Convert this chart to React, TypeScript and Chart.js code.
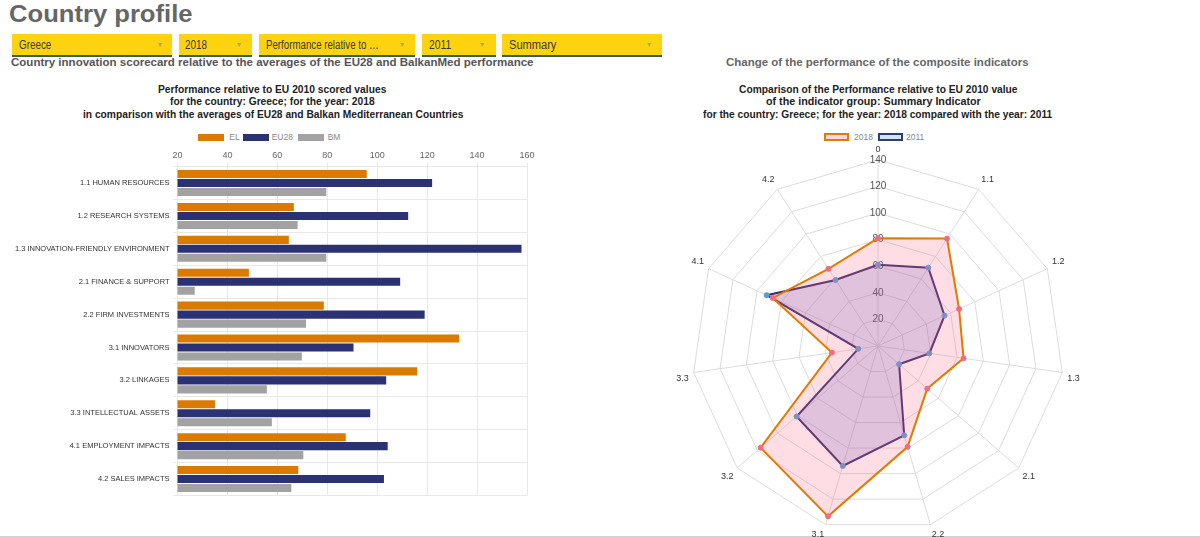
import React, { useEffect, useLayoutEffect, useRef, useState } from "react";
import { Chart, registerables } from "chart.js";

Chart.register(...registerables);

const FONT = "'Liberation Sans', Arial, Helvetica, sans-serif";
Chart.defaults.font.family = FONT;

// ---------- Bar chart data ----------
const categories = [
  "1.1 HUMAN RESOURCES",
  "1.2 RESEARCH SYSTEMS",
  "1.3 INNOVATION-FRIENDLY ENVIRONMENT",
  "2.1 FINANCE & SUPPORT",
  "2.2 FIRM INVESTMENTS",
  "3.1 INNOVATORS",
  "3.2 LINKAGES",
  "3.3 INTELLECTUAL ASSETS",
  "4.1 EMPLOYMENT IMPACTS",
  "4.2 SALES IMPACTS",
];
const barSeriesNames = ["EL", "EU28", "BM"];
const elValues = [95.8, 66.6, 64.6, 48.6, 78.6, 132.8, 116.0, 35.0, 87.4, 68.4];
const eu28Values = [122.0, 112.4, 157.8, 109.2, 119.0, 90.5, 103.6, 97.2, 104.2, 102.7];
const bmValues = [79.6, 68.1, 79.6, 26.9, 71.5, 69.8, 55.8, 57.8, 70.4, 65.6];
const barAxisMin = 20;
const barAxisMax = 160;
const barAxisStep = 20;

// ---------- Radar chart data ----------
const radarLabels = ["0", "1.1", "1.2", "1.3", "2.1", "2.2", "3.1", "3.2", "3.3", "4.1", "4.2"];
const radarSeriesNames = ["2018", "2011"];
const values2018 = [81, 96, 67, 65, 49, 79, 133.5, 116.8, 35, 87, 69];
const values2011 = [61, 70, 55, 39, 21, 70, 94, 81, 15, 92, 59];
const radarMin = 0;
const radarMax = 140;
const radarStep = 20;

// ---------- Header data ----------
const dropdownTexts = ["Greece", "2018", "Performance relative to …", "2011", "Summary"];

const BAR_COLORS = ["#da7b00", "#2a3273", "#a2a2a2"];
const RADAR_BORDER = ["#e07b00", "#3a2d6e"];
const RADAR_FILL = ["rgba(255,99,132,0.22)", "rgba(60,80,200,0.2)"];
const RADAR_POINT = ["#f26b82", "#5b9bd5"];
const RADAR_LEGEND_FILL = ["#ffd6dd", "#d3e3f6"];

type FitProps = {
  text: string;
  x1: number;
  x2: number;
  cy: number;
  size: number;
  weight?: string | number;
  color?: string;
};

function FitText({ text, x1, x2, cy, size, weight = "normal", color = "#333" }: FitProps) {
  const ref = useRef<HTMLSpanElement>(null);
  const [sx, setSx] = useState(1);
  useLayoutEffect(() => {
    const el = ref.current;
    if (!el) return;
    const w = el.offsetWidth;
    if (w > 0) setSx((x2 - x1) / w);
  }, [text, x1, x2, size]);
  return (
    <span
      ref={ref}
      style={{
        position: "absolute",
        left: x1,
        top: cy - size / 2,
        fontSize: size,
        lineHeight: `${size}px`,
        fontWeight: weight as any,
        color,
        fontFamily: FONT,
        whiteSpace: "nowrap",
        transform: `scaleX(${sx})`,
        transformOrigin: "0 0",
      }}
    >
      {text}
    </span>
  );
}

function BarChart() {
  const ref = useRef<HTMLCanvasElement>(null);
  useEffect(() => {
    const seriesValues = [elValues, eu28Values, bmValues];
    const chart = new Chart(ref.current as HTMLCanvasElement, {
      type: "bar",
      data: {
        labels: categories,
        datasets: barSeriesNames.map((name, i) => ({
          label: name,
          data: seriesValues[i],
          backgroundColor: BAR_COLORS[i],
          borderWidth: 0,
          categoryPercentage: 0.82,
          barPercentage: 0.9,
        })),
      },
      options: {
        indexAxis: "y",
        responsive: false,
        animation: false,
        maintainAspectRatio: false,
        layout: { padding: { left: 0, right: 17, top: 0, bottom: 0 } },
        plugins: {
          legend: { display: false },
          title: { display: false },
          tooltip: { enabled: false },
        },
        scales: {
          x: {
            position: "top",
            min: barAxisMin,
            max: barAxisMax,
            ticks: { stepSize: barAxisStep, color: "#666", font: { size: 9 }, padding: 2 },
            grid: { color: "#e8e8e8", tickLength: 4 },
            border: { display: false },
            afterFit: (s: any) => {
              s.height = 20.6;
            },
          },
          y: {
            ticks: { color: "#333", font: { size: 7.5 }, padding: 4 },
            grid: { color: "#e8e8e8", tickLength: 4, offset: true },
            border: { display: false },
            afterFit: (s: any) => {
              s.width = 177.5;
            },
          },
        },
      } as any,
    });
    return () => chart.destroy();
  }, []);
  return (
    <canvas
      ref={ref}
      width={544}
      height={358}
      style={{ position: "absolute", left: 0, top: 146, width: 544, height: 358 }}
    />
  );
}

function RadarChart() {
  const ref = useRef<HTMLCanvasElement>(null);
  useEffect(() => {
    const seriesValues = [values2018, values2011];
    const chart = new Chart(ref.current as HTMLCanvasElement, {
      type: "radar",
      data: {
        labels: radarLabels,
        datasets: radarSeriesNames.map((name, i) => ({
          label: name,
          data: seriesValues[i],
          borderColor: RADAR_BORDER[i],
          backgroundColor: RADAR_FILL[i],
          borderWidth: 2,
          fill: true,
          tension: 0,
          pointBackgroundColor: RADAR_POINT[i],
          pointBorderColor: RADAR_POINT[i],
          pointRadius: 2.5,
          pointBorderWidth: 1,
        })),
      },
      options: {
        responsive: false,
        animation: false,
        maintainAspectRatio: false,
        layout: { padding: 0 },
        plugins: {
          legend: { display: false },
          title: { display: false },
          tooltip: { enabled: false },
        },
        scales: {
          r: {
            min: radarMin,
            max: radarMax,
            ticks: {
              stepSize: radarStep,
              showLabelBackdrop: false,
              backdropPadding: 0,
              color: "#555",
              font: { size: 10 },
            },
            pointLabels: { color: "#333", font: { size: 9 }, padding: 0 },
            grid: { color: "#dcdcdc" },
            angleLines: { color: "#dcdcdc" },
          },
        },
      } as any,
    });
    return () => chart.destroy();
  }, []);
  return (
    <canvas
      ref={ref}
      width={460}
      height={404}
      style={{ position: "absolute", left: 648, top: 141, width: 460, height: 404 }}
    />
  );
}

const dropdownBoxes = [
  { x1: 11.7, x2: 172.3, tx1: 19, tx2: 51, ax: 161 },
  { x1: 179, x2: 252.3, tx1: 185, tx2: 207.3, ax: 240 },
  { x1: 258.5, x2: 415.4, tx1: 265.8, tx2: 378.2, ax: 403 },
  { x1: 422, x2: 495.7, tx1: 428.6, tx2: 450.9, ax: 483 },
  { x1: 502, x2: 661.5, tx1: 508.5, tx2: 555.6, ax: 650 },
];

export default function App() {
  const barLegendPos = [
    { bx: 198.3, tx: 229.3 },
    { bx: 243.3, tx: 271.7 },
    { bx: 298.3, tx: 327.7 },
  ];
  const radarLegendPos = [
    { bx: 824, tx: 854 },
    { bx: 877.7, tx: 906 },
  ];
  return (
    <div
      style={{
        position: "fixed",
        left: 0,
        top: 0,
        width: 1200,
        height: 537,
        overflow: "hidden",
        background: "#fff",
        fontFamily: FONT,
      }}
    >
      <div
        style={{
          position: "absolute",
          left: 0,
          top: 535.5,
          width: 1200,
          height: 1.5,
          background: "#d2d2d2",
        }}
      />

      <FitText text="Country profile" x1={8.5} x2={192} cy={14} size={24} weight="bold" color="#666" />

      {dropdownBoxes.map((b, i) => (
        <React.Fragment key={i}>
          <div
            style={{
              position: "absolute",
              left: b.x1,
              top: 34,
              width: b.x2 - b.x1,
              height: 21,
              background: "#fdd20f",
              borderBottom: "2px solid #3b5a5f",
            }}
          />
          <FitText text={dropdownTexts[i]} x1={b.tx1} x2={b.tx2} cy={45} size={12} color="#3a3a3a" />
          <span
            style={{
              position: "absolute",
              left: b.ax - 3,
              top: 41,
              fontSize: 8,
              lineHeight: "8px",
              color: "#b5a35a",
            }}
          >
            ▾
          </span>
        </React.Fragment>
      ))}

      <FitText
        text="Country innovation scorecard relative to the averages of the EU28 and BalkanMed performance"
        x1={11}
        x2={533}
        cy={62.5}
        size={11.5}
        weight="bold"
        color="#555"
      />
      <FitText
        text="Change of the performance of the composite indicators"
        x1={726}
        x2={1028.7}
        cy={63}
        size={11.5}
        weight="bold"
        color="#666"
      />

      {/* Bar chart titles */}
      <FitText text="Performance relative to EU 2010 scored values" x1={158.2} x2={386.1} cy={89} size={10.5} weight="bold" color="#222" />
      <FitText text="for the country: Greece; for the year: 2018" x1={170.4} x2={374.6} cy={101.5} size={10.5} weight="bold" color="#222" />
      <FitText
        text="in comparison with the averages of EU28 and Balkan Mediterranean Countries"
        x1={82.5}
        x2={462.5}
        cy={114}
        size={10.5}
        weight="bold"
        color="#222"
      />

      {/* Radar titles */}
      <FitText text="Comparison of the Performance relative to EU 2010 value" x1={738.7} x2={1017.3} cy={89} size={10.5} weight="bold" color="#222" />
      <FitText text="of the indicator group: Summary Indicator" x1={766} x2={980.7} cy={101.5} size={10.5} weight="bold" color="#222" />
      <FitText
        text="for the country: Greece; for the year: 2018 compared with the year: 2011"
        x1={702.7}
        x2={1052}
        cy={114}
        size={10.5}
        weight="bold"
        color="#222"
      />

      {/* Bar legend */}
      {barSeriesNames.map((name, i) => (
        <React.Fragment key={name}>
          <div
            style={{
              position: "absolute",
              left: barLegendPos[i].bx,
              top: 134,
              width: 26,
              height: 7,
              background: BAR_COLORS[i],
            }}
          />
          <span
            style={{
              position: "absolute",
              left: barLegendPos[i].tx,
              top: 133,
              fontSize: 8.5,
              lineHeight: "9px",
              color: "#888",
              whiteSpace: "nowrap",
            }}
          >
            {name}
          </span>
        </React.Fragment>
      ))}

      {/* Radar legend */}
      {radarSeriesNames.map((name, i) => (
        <React.Fragment key={name}>
          <div
            style={{
              position: "absolute",
              left: radarLegendPos[i].bx,
              top: 133,
              width: 25,
              height: 8,
              boxSizing: "border-box",
              background: RADAR_LEGEND_FILL[i],
              border: `2px solid ${i === 0 ? RADAR_BORDER[0] : "#2c3d78"}`,
            }}
          />
          <span
            style={{
              position: "absolute",
              left: radarLegendPos[i].tx,
              top: 132.5,
              fontSize: 8.5,
              lineHeight: "9px",
              color: "#888",
              whiteSpace: "nowrap",
            }}
          >
            {name}
          </span>
        </React.Fragment>
      ))}

      <BarChart />
      <RadarChart />
    </div>
  );
}
